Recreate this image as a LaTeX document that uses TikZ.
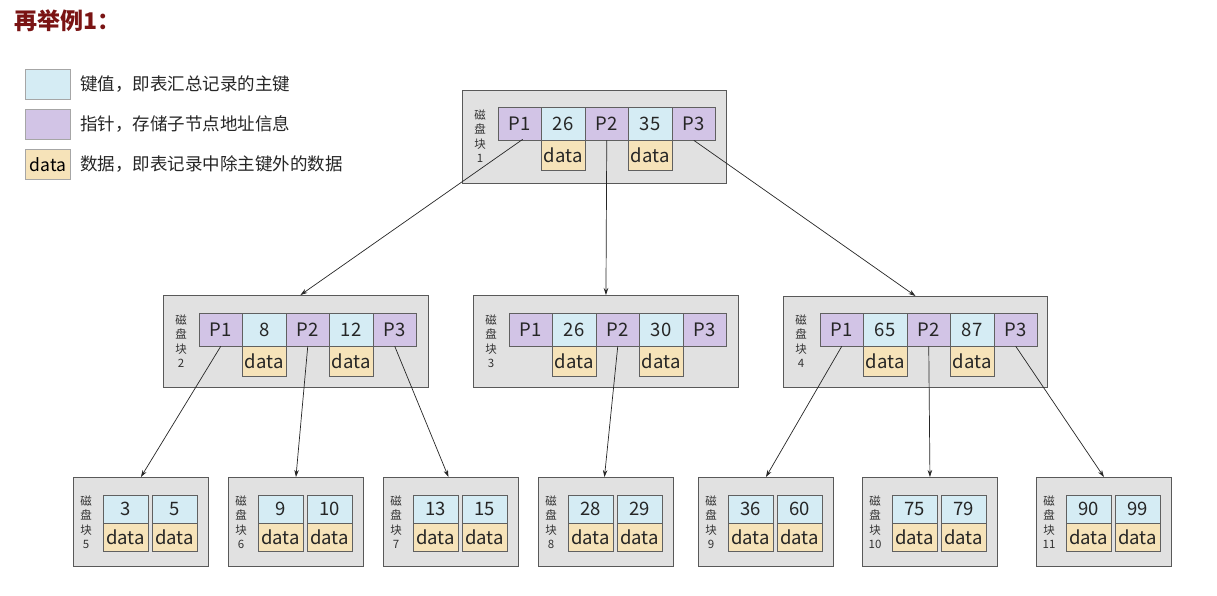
\documentclass[tikz,border=0pt]{standalone}
\usepackage{fontspec}
\setmainfont{Noto Sans CJK SC}
\usetikzlibrary{arrows.meta}
\definecolor{keyc}{HTML}{D5ECF4}
\definecolor{ptrc}{HTML}{D2C4E6}
\definecolor{datc}{HTML}{F6E3B9}
\definecolor{blkc}{HTML}{E1E1E1}
\definecolor{titlec}{HTML}{7A1414}
\tikzset{
  x=1pt,y=-1pt,
  blk/.style={draw=black!65, fill=blkc, line width=0.9pt, inner sep=0, anchor=north west},
  cellbase/.style={draw=gray!75!black, line width=0.6pt, inner sep=0, font=\fontsize{18.5}{18.5}\selectfont, text=black!85},
  keyn/.style={cellbase, fill=keyc, minimum width=43.5pt, minimum height=33pt},
  ptrn/.style={cellbase, fill=ptrc, minimum width=43.5pt, minimum height=33pt},
  datn/.style={cellbase, fill=datc, minimum width=43.5pt, minimum height=30pt},
  lkey/.style={cellbase, fill=keyc, minimum width=45pt, minimum height=28pt},
  ldat/.style={cellbase, fill=datc, minimum width=45pt, minimum height=28pt},
  lbl/.style={align=center, font=\fontsize{11.5}{14.5}\selectfont, text=black!80, inner sep=0},
  conn/.style={draw=black!85, line width=0.7pt, -{Stealth[length=7pt,width=4.5pt]}},
  legbox/.style={draw=gray!70, line width=0.6pt, minimum width=45pt, minimum height=30pt, inner sep=0, anchor=north west, font=\fontsize{17.5}{17.5}\selectfont},
  legtxt/.style={anchor=west, inner sep=0, font=\fontsize{17.5}{17.5}\selectfont, text=black!85}
}
\begin{document}
\begin{tikzpicture}
\useasboundingbox[fill=white] (0,0) rectangle (1217,595);
% title
\node[anchor=west, inner sep=0, text=titlec, font=\fontsize{23}{23}\selectfont\bfseries] (title) at (14,21) {再举例1：};
% legend
\node[legbox, fill=keyc] (lg1) at (25,69) {};
\node[legbox, fill=ptrc] (lg2) at (25,109) {};
\node[legbox, fill=datc] (lg3) at (25,149) {data};
\node[legtxt] (lt1) at (80,84) {键值，即表汇总记录的主键};
\node[legtxt] (lt2) at (80,124) {指针，存储子节点地址信息};
\node[legtxt] (lt3) at (80,164) {数据，即表记录中除主键外的数据};

% ---------- root: block 1 ----------
\node[blk, minimum width=264pt, minimum height=93pt] (b1) at (462,90) {};
\node[lbl] (b1l) at (480,136) {磁\\盘\\块\\1};
\node[ptrn] (b1p1) at (519.75,123.5) {P1};
\node[keyn] (b1k1) at (563.25,123.5) {26};
\node[ptrn] (b1p2) at (606.75,123.5) {P2};
\node[keyn] (b1k2) at (650.25,123.5) {35};
\node[ptrn] (b1p3) at (693.75,123.5) {P3};
\node[datn] (b1d1) at (563.25,155) {data};
\node[datn] (b1d2) at (650.25,155) {data};

% ---------- level 2 ----------
% block 2
\node[blk, minimum width=265pt, minimum height=92pt] (b2) at (163,295) {};
\node[lbl] (b2l) at (181,341) {磁\\盘\\块\\2};
\node[ptrn] (b2p1) at (220.75,329.5) {P1};
\node[keyn] (b2k1) at (264.25,329.5) {8};
\node[ptrn] (b2p2) at (307.75,329.5) {P2};
\node[keyn] (b2k2) at (351.25,329.5) {12};
\node[ptrn] (b2p3) at (394.75,329.5) {P3};
\node[datn] (b2d1) at (264.25,361) {data};
\node[datn] (b2d2) at (351.25,361) {data};
% block 3
\node[blk, minimum width=265pt, minimum height=92pt] (b3) at (473,295) {};
\node[lbl] (b3l) at (491,341) {磁\\盘\\块\\3};
\node[ptrn] (b3p1) at (530.75,329.5) {P1};
\node[keyn] (b3k1) at (574.25,329.5) {26};
\node[ptrn] (b3p2) at (617.75,329.5) {P2};
\node[keyn] (b3k2) at (661.25,329.5) {30};
\node[ptrn] (b3p3) at (704.75,329.5) {P3};
\node[datn] (b3d1) at (574.25,361) {data};
\node[datn] (b3d2) at (661.25,361) {data};
% block 4
\node[blk, minimum width=264pt, minimum height=91pt] (b4) at (783,296) {};
\node[lbl] (b4l) at (801,341) {磁\\盘\\块\\4};
\node[ptrn] (b4p1) at (841.75,329.5) {P1};
\node[keyn] (b4k1) at (885.25,329.5) {65};
\node[ptrn] (b4p2) at (928.75,329.5) {P2};
\node[keyn] (b4k2) at (972.25,329.5) {87};
\node[ptrn] (b4p3) at (1015.75,329.5) {P3};
\node[datn] (b4d1) at (885.25,361) {data};
\node[datn] (b4d2) at (972.25,361) {data};

% ---------- leaves ----------
\foreach \n/\x/\a/\b in {5/73/3/5, 6/228/9/10, 7/383/13/15, 8/538/28/29, 9/698/36/60, 10/862/75/79, 11/1036/90/99}{
  \node[blk, minimum width=135pt, minimum height=89pt] (b\n) at (\x,477) {};
  \node[lbl] (b\n l) at (\x+13,522) {磁\\盘\\块\\\n};
  \node[lkey] (b\n k1) at (\x+52.5,509) {\a};
  \node[lkey] (b\n k2) at (\x+101.5,509) {\b};
  \node[ldat] (b\n d1) at (\x+52.5,537) {data};
  \node[ldat] (b\n d2) at (\x+101.5,537) {data};
}

% ---------- connectors ----------
\draw[conn] ([xshift=3pt,yshift=1pt]b1p1.south) -- ([xshift=4.5pt]b2.north);
\draw[conn] (b1p2.south) -- (b3.north);
\draw[conn] (b1p3.south) -- (b4.north);
\draw[conn] (b2p1.south) -- (b5.north);
\draw[conn] (b2p2.south) -- (b6.north);
\draw[conn] (b2p3.south) -- ([xshift=-2.5pt]b7.north);
\draw[conn] (b3p2.south) -- ([xshift=-1.5pt]b8.north);
\draw[conn] (b4p1.south) -- (b9.north);
\draw[conn] (b4p2.south) -- (b10.north);
\draw[conn] (b4p3.south) -- (b11.north);
\end{tikzpicture}
\end{document}
